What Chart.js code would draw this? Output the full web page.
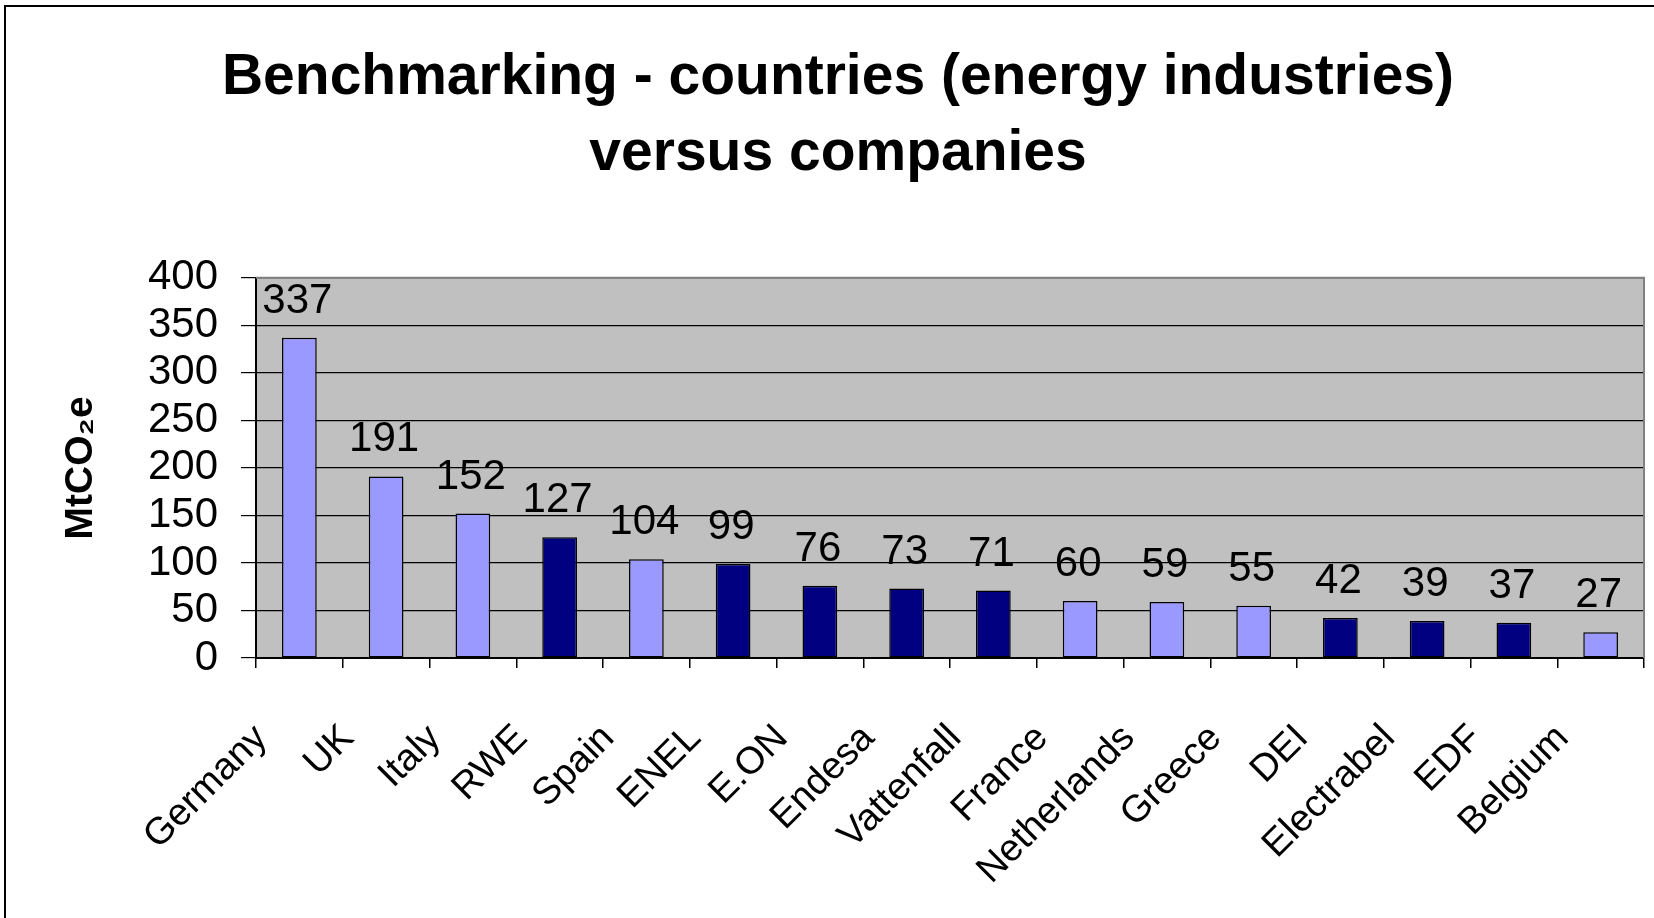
<!DOCTYPE html>
<html>
<head>
<meta charset="utf-8">
<script src="https://cdn.jsdelivr.net/npm/chart.js@4.4.1/dist/chart.umd.min.js"></script>
<style>
  html, body { margin: 0; padding: 0; background: #fff; }
  #wrap { width: 1654px; height: 918px; }
</style>
</head>
<body>
<div id="wrap"><canvas id="benchChart" width="1654" height="918"></canvas></div>
<script>
// emitters: countries (energy industries) and companies, MtCO2e
var names = ["Germany", "UK", "Italy", "RWE", "Spain", "ENEL", "E.ON", "Endesa", "Vattenfall",
             "France", "Netherlands", "Greece", "DEI", "Electrabel", "EDF", "Belgium"];
var emissions = [337, 191, 152, 127, 104, 99, 76, 73, 71, 60, 59, 55, 42, 39, 37, 27];
var kinds = ["country", "country", "country", "company", "country", "company", "company", "company", "company",
             "country", "country", "country", "company", "company", "company", "country"];
var yTicks = [0, 50, 100, 150, 200, 250, 300, 350, 400];

var FONT = '"Liberation Sans", Arial, sans-serif';
var barColors = kinds.map(function (k) { return k === "country" ? "#9999FF" : "#000080"; });

// grey plot background, white page and the outer frame
var backdrop = {
    id: 'backdrop',
    beforeDraw: function (chart) {
        var c = chart.ctx, a = chart.chartArea;
        c.save();
        c.fillStyle = '#ffffff';
        c.fillRect(0, 0, chart.width, chart.height);
        c.strokeStyle = '#000000';
        c.lineWidth = 2;
        c.strokeRect(5, 6, chart.width + 20, chart.height + 20);
        c.fillStyle = '#C0C0C0';
        c.fillRect(a.left, a.top, a.right - a.left, a.bottom - a.top);
        c.restore();
    },
    beforeDatasetsDraw: function (chart) {
        var c = chart.ctx, a = chart.chartArea;
        c.save();
        c.strokeStyle = '#808080';
        c.lineWidth = 2;
        c.beginPath();
        c.moveTo(a.left, a.top);
        c.lineTo(a.right, a.top);
        c.lineTo(a.right, a.bottom);
        c.stroke();
        c.restore();
    }
};

// value labels above the bars
var valueLabels = {
    id: 'valueLabels',
    afterDatasetsDraw: function (chart) {
        var c = chart.ctx;
        var meta = chart.getDatasetMeta(0);
        c.save();
        c.font = '42px ' + FONT;
        c.fillStyle = '#000';
        c.textAlign = 'center';
        c.textBaseline = 'alphabetic';
        meta.data.forEach(function (bar, i) {
            c.fillText(String(emissions[i]), bar.x - 2, bar.y - 25);
        });
        c.restore();
    }
};

var ctx = document.getElementById('benchChart').getContext('2d');
var chart = new Chart(ctx, {
    type: 'bar',
    data: {
        labels: names,
        datasets: [{
            label: 'MtCO2e',
            data: emissions,
            backgroundColor: barColors,
            borderColor: '#000000',
            borderWidth: 1.5,
            borderSkipped: false,
            categoryPercentage: 1.0,
            barPercentage: 0.4
        }]
    },
    options: {
        responsive: false,
        animation: false,
        layout: { padding: { left: 32, right: 10, top: 0, bottom: 0 } },
        plugins: {
            legend: { display: false },
            tooltip: { enabled: false },
            title: {
                display: true,
                text: ['Benchmarking - countries (energy industries)', 'versus companies'],
                color: '#000',
                font: { family: FONT, size: 57, weight: 'bold', lineHeight: 1.34 },
                padding: { top: 40, bottom: 85 }
            }
        },
        scales: {
            x: {
                afterFit: function (s) {
                    s.height = 260;
                    s.paddingLeft = 0;
                    s.paddingRight = 0;
                },
                grid: {
                    display: true,
                    drawOnChartArea: false,
                    drawTicks: true,
                    tickLength: 10,
                    color: '#000',
                    lineWidth: 1.5
                },
                border: { display: true, color: '#000', width: 2 },
                ticks: {
                    autoSkip: false,
                    maxRotation: 45,
                    minRotation: 45,
                    labelOffset: -38,
                    padding: 48,
                    color: '#000',
                    font: { family: FONT, size: 38 }
                }
            },
            y: {
                min: 0,
                max: 400,
                afterFit: function (s) { s.width = 224; },
                afterBuildTicks: function (s) { s.ticks = yTicks.map(function (v) { return { value: v }; }); },
                grid: {
                    color: '#000',
                    tickColor: '#000',
                    lineWidth: 1.2,
                    tickLength: 15
                },
                border: { display: true, color: '#000', width: 2 },
                ticks: {
                    autoSkip: false,
                    padding: 23,
                    color: '#000',
                    font: { family: FONT, size: 42 }
                },
                title: {
                    display: true,
                    text: 'MtCO₂e',
                    color: '#000',
                    font: { family: FONT, size: 39, weight: 'bold' },
                    padding: { top: 26, bottom: 0 }
                }
            }
        }
    },
    plugins: [backdrop, valueLabels]
});
</script>
</body>
</html>
